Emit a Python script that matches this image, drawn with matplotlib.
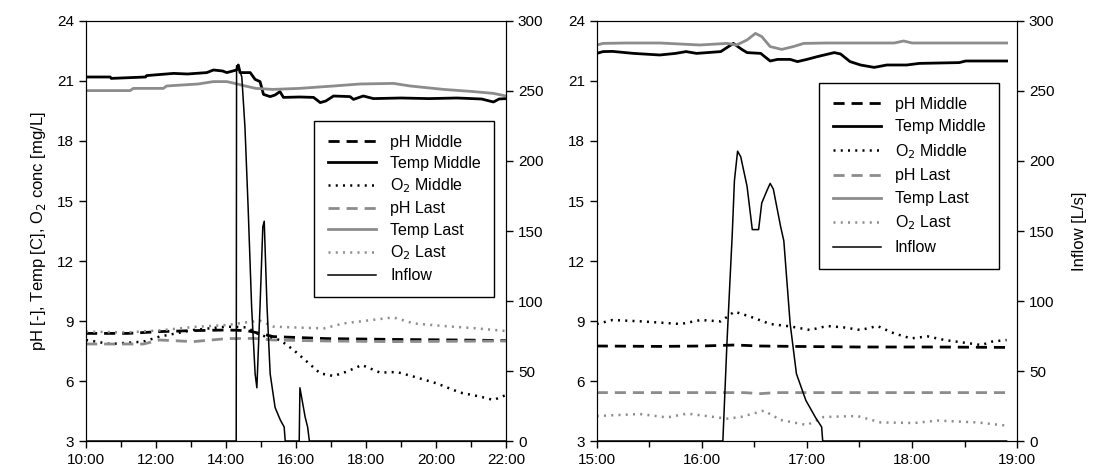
import matplotlib
matplotlib.use("Agg")
import matplotlib.pyplot as plt
from matplotlib.ticker import MultipleLocator, FuncFormatter

plt.rcParams['font.family'] = ['Liberation Sans', 'DejaVu Sans']

# ---- left panel (10:00 - 22:00), time in decimal hours ----
tm_mid_t = [10.0, 10.69, 10.72, 11.7, 11.73, 12.5, 12.9, 13.45, 13.64, 13.9, 14.02, 14.3, 14.35, 14.4,
            14.69, 14.83, 14.97, 15.07, 15.26, 15.4, 15.54, 15.64, 16.1, 16.5, 16.69, 16.85, 17.07, 17.54,
            17.64, 17.92, 18.21, 19.0, 19.8, 20.6, 21.3, 21.64, 21.8, 22.0]
tm_mid_v = [21.2, 21.2, 21.13, 21.2, 21.27, 21.38, 21.35, 21.42, 21.55, 21.5, 21.42, 21.55, 21.8, 21.42,
            21.42, 21.08, 20.97, 20.33, 20.22, 20.3, 20.47, 20.18, 20.2, 20.18, 19.92, 20.0, 20.25, 20.22,
            20.08, 20.25, 20.12, 20.15, 20.12, 20.15, 20.1, 19.95, 20.1, 20.12]
tl_t = [10.0, 11.26, 11.35, 12.21, 12.3, 13.2, 13.64, 14.02, 14.2, 14.55, 14.85, 15.33, 16.1, 16.5,
        17.07, 17.83, 18.78, 19.26, 20.21, 21.07, 21.64, 22.0]
tl_v = [20.52, 20.52, 20.63, 20.63, 20.75, 20.85, 20.97, 20.97, 20.9, 20.75, 20.63, 20.58, 20.63, 20.68,
        20.75, 20.85, 20.88, 20.75, 20.58, 20.47, 20.38, 20.25]
o2m_t = [10.0, 10.69, 11.64, 12.1, 13.06, 14.02, 14.59, 14.97, 15.54, 15.93, 16.31, 16.69, 17.07, 17.45,
         17.88, 18.4, 18.88, 19.36, 20.02, 20.69, 21.26, 21.64, 22.0]
o2m_v = [8.05, 7.85, 7.97, 8.22, 8.55, 8.72, 8.68, 8.3, 8.05, 7.55, 6.97, 6.38, 6.25, 6.47,
         6.8, 6.42, 6.45, 6.22, 5.88, 5.42, 5.22, 5.05, 5.3]
o2l_t = [10.0, 11.16, 12.1, 13.06, 14.02, 14.97, 15.35, 15.93, 16.79, 17.36, 18.02, 18.78, 19.36, 20.21,
         21.17, 22.0]
o2l_v = [8.47, 8.43, 8.53, 8.7, 8.8, 9.02, 8.72, 8.68, 8.63, 8.88, 9.02, 9.18, 8.88, 8.75, 8.63, 8.5]
phm_t = [10.0, 11.2, 12.1, 13.06, 14.02, 14.59, 14.97, 15.35, 16.88, 18.78, 20.7, 22.0]
phm_v = [8.38, 8.38, 8.47, 8.52, 8.55, 8.52, 8.38, 8.22, 8.12, 8.08, 8.05, 8.02]
phl_t = [10.0, 11.64, 12.1, 13.06, 14.02, 14.78, 15.35, 16.88, 18.78, 22.0]
phl_v = [7.85, 7.85, 8.05, 7.97, 8.12, 8.13, 8.05, 8.0, 7.97, 8.0]
inf_t = [10.0, 14.29, 14.3, 14.35, 14.45, 14.54, 14.63, 14.73, 14.83, 14.88, 14.97, 15.05, 15.09, 15.17,
         15.26, 15.4, 15.55, 15.66, 15.69, 16.09, 16.11, 16.26, 16.33, 16.38, 22.0]
inf_v = [0, 0, 268, 268, 260, 224, 167, 96, 48, 38, 96, 153, 157, 96,
         48, 24, 15, 10, 0, 0, 38, 17, 10, 0, 0]

# ---- right panel (15:00 - 19:00) ----
tl2_t = [15.0, 15.06, 15.28, 15.6, 15.98, 16.24, 16.33, 16.43, 16.51, 16.57, 16.65, 16.76, 16.87, 16.97,
         17.19, 17.83, 17.92, 18.0, 18.9]
tl2_v = [22.8, 22.88, 22.9, 22.9, 22.8, 22.88, 22.8, 23.05, 23.38, 23.22, 22.72, 22.58, 22.72, 22.88,
         22.9, 22.9, 23.0, 22.9, 22.9]
tm2_t = [15.0, 15.06, 15.15, 15.35, 15.6, 15.75, 15.85, 15.95, 16.18, 16.3, 16.38, 16.43, 16.56, 16.65,
         16.72, 16.84, 16.91, 17.0, 17.1, 17.26, 17.32, 17.41, 17.51, 17.64, 17.76, 17.95, 18.07, 18.45,
         18.51, 18.9]
tm2_v = [22.38, 22.47, 22.48, 22.38, 22.3, 22.38, 22.47, 22.38, 22.47, 22.88, 22.58, 22.42, 22.38, 22.0,
         22.08, 22.08, 21.97, 22.08, 22.22, 22.42, 22.35, 21.97, 21.8, 21.68, 21.8, 21.8, 21.88, 21.92,
         22.0, 22.0]
o2m2_t = [15.0, 15.15, 15.43, 15.8, 15.99, 16.18, 16.31, 16.46, 16.65, 16.84, 17.03, 17.19, 17.35, 17.51,
          17.67, 17.83, 17.99, 18.15, 18.31, 18.66, 18.76, 18.9]
o2m2_v = [8.85, 9.05, 8.98, 8.85, 9.05, 8.98, 9.47, 9.22, 8.85, 8.73, 8.55, 8.75, 8.68, 8.55,
          8.75, 8.38, 8.13, 8.23, 8.05, 7.8, 7.97, 8.05]
o2l2_t = [15.0, 15.41, 15.67, 15.86, 16.24, 16.37, 16.59, 16.75, 17.0, 17.16, 17.48, 17.7, 18.02, 18.24,
          18.62, 18.9]
o2l2_v = [4.25, 4.35, 4.18, 4.37, 4.12, 4.2, 4.52, 4.05, 3.8, 4.2, 4.25, 3.93, 3.9, 4.02, 3.93, 3.77]
phm2_t = [15.0, 15.6, 16.0, 16.31, 16.56, 16.88, 17.5, 18.2, 18.9]
phm2_v = [7.75, 7.73, 7.75, 7.8, 7.75, 7.73, 7.7, 7.7, 7.68]
phl2_t = [15.0, 16.4, 16.56, 16.7, 18.9]
phl2_v = [5.42, 5.42, 5.37, 5.42, 5.42]
inf2_t = [15.0, 16.2, 16.24, 16.29, 16.31, 16.34, 16.37, 16.43, 16.48, 16.54, 16.57, 16.62, 16.65, 16.68,
          16.75, 16.78, 16.84, 16.9, 16.99, 17.08, 17.14, 17.15, 18.9]
inf2_v = [0, 0, 72, 149, 186, 207, 203, 182, 151, 151, 170, 179, 184, 180,
          153, 143, 84, 48, 29, 17, 10, 0, 0]

labels = ["pH Middle", "Temp Middle", "O$_2$ Middle", "pH Last", "Temp Last", "O$_2$ Last", "Inflow"]
GREY = "#8c8c8c"


def hhmm(x, pos):
    m = int(round(x * 60))
    return "%d:%02d" % (m // 60, m % 60)


fig = plt.figure(figsize=(10.99, 4.76), dpi=100)
ax1 = fig.add_axes([0.0783, 0.0735, 0.3822, 0.8824])
ax2 = fig.add_axes([0.543, 0.0735, 0.3825, 0.8824])


def draw(ax, series, inflow, xlim, major, minor, legend_anchor, spacing):
    (pm_t, pm_v), (tm_t, tm_v), (om_t, om_v), (pl_t, pl_v), (tl_t_, tl_v_), (ol_t, ol_v) = series
    h = []
    h += ax.plot(pm_t, pm_v, color="black", lw=2, ls=(0, (4, 2.5)))
    h += ax.plot(tm_t, tm_v, color="black", lw=2)
    h += ax.plot(om_t, om_v, color="black", lw=1.8, ls=(0, (0.8, 2.1)))
    h += ax.plot(pl_t, pl_v, color=GREY, lw=2, ls=(0, (4, 2.5)))
    h += ax.plot(tl_t_, tl_v_, color=GREY, lw=2)
    h += ax.plot(ol_t, ol_v, color=GREY, lw=1.8, ls=(0, (0.8, 2.1)))
    ax.set_xlim(*xlim)
    ax.set_ylim(3, 24)
    ax.yaxis.set_major_locator(MultipleLocator(3))
    ax.xaxis.set_major_locator(MultipleLocator(major))
    ax.xaxis.set_minor_locator(MultipleLocator(minor))
    ax.xaxis.set_major_formatter(FuncFormatter(hhmm))
    ax.tick_params(axis="both", which="both", direction="out", labelsize=11, length=5, width=1)
    ax.tick_params(axis="x", which="minor", length=4)
    axr = ax.twinx()
    h += axr.plot(inflow[0], inflow[1], color="black", lw=1.1)
    axr.set_ylim(0, 300)
    axr.yaxis.set_major_locator(MultipleLocator(50))
    axr.tick_params(axis="y", direction="out", labelsize=11, length=5, width=1)
    leg = axr.legend(h, labels, loc="upper left", bbox_to_anchor=legend_anchor, borderaxespad=0,
                     fontsize=11.5, handlelength=3.0, handletextpad=0.9, labelspacing=spacing,
                     fancybox=False, framealpha=1, edgecolor="black", borderpad=0.85)
    leg.get_frame().set_linewidth(1)
    return axr


axr1 = draw(ax1, [(phm_t, phm_v), (tm_mid_t, tm_mid_v), (o2m_t, o2m_v), (phl_t, phl_v), (tl_t, tl_v),
                  (o2l_t, o2l_v)], (inf_t, inf_v), (10, 22), 2, 1, (0.543, 0.762), 0.38)
axr2 = draw(ax2, [(phm2_t, phm2_v), (tm2_t, tm2_v), (o2m2_t, o2m2_v), (phl2_t, phl2_v), (tl2_t, tl2_v),
                  (o2l2_t, o2l2_v)], (inf2_t, inf2_v), (15, 19), 1, 0.5, (0.529, 0.852), 0.48)

ax1.set_ylabel("pH [-], Temp [C], O$_2$ conc [mg/L]", fontsize=12, labelpad=7)
axr2.set_ylabel("Inflow [L/s]", fontsize=12, labelpad=13)

fig.savefig("out.png", dpi=100)
